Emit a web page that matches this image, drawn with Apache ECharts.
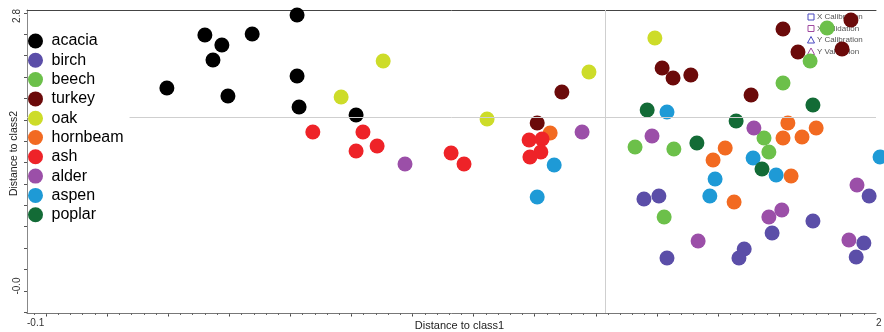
<!DOCTYPE html>
<html><head><meta charset="utf-8">
<script src="https://cdn.jsdelivr.net/npm/echarts@6/dist/echarts.min.js"></script>
<style>html,body{margin:0;padding:0;background:#fff}#c{width:884px;height:332px}</style>
</head><body><div id="c"></div>
<script>
const speciesNames = ['acacia','birch','beech','turkey','oak','hornbeam','ash','alder','aspen','poplar'];
const speciesColors = ['#000000','#5b4ea8','#6cc04a','#6b0a0a','#cddc29','#f26a21','#ee2328','#9b4fa8','#1e9ad6','#136b36'];

const acacia = [[0.568,2.810],[0.340,2.603],[0.382,2.499],[0.457,2.613],[0.360,2.344],[0.246,2.053],[0.397,1.970],[0.568,2.178],[0.573,1.856],[0.714,1.773]];
const birch = [[1.426,0.902],[1.463,0.933],[1.483,0.290],[1.674,0.384],[1.661,0.290],[1.743,0.550],[1.844,0.674],[1.983,0.933],[1.970,0.446],[1.951,0.301]];
const beech = [[1.879,2.676],[1.837,2.333],[1.770,2.105],[1.404,1.441],[1.500,1.421],[1.723,1.535],[1.735,1.390],[1.476,0.716]];
const turkey = [[1.162,1.690],[1.223,2.012],[1.770,2.665],[1.938,2.758],[1.807,2.427],[1.916,2.458],[1.471,2.261],[1.498,2.157],[1.542,2.188],[1.691,1.981]];
const oak = [[0.781,2.333],[0.677,1.960],[1.038,1.732],[1.290,2.219],[1.453,2.572]];
const hornbeam = [[1.194,1.587],[1.782,1.690],[1.852,1.638],[1.770,1.535],[1.817,1.545],[1.627,1.431],[1.597,1.307],[1.790,1.141],[1.649,0.871]];
const ash = [[0.607,1.597],[0.731,1.597],[0.714,1.400],[0.766,1.452],[0.949,1.379],[0.981,1.265],[1.142,1.514],[1.174,1.524],[1.171,1.390],[1.144,1.338]];
const alder = [[0.835,1.265],[1.273,1.597],[1.446,1.556],[1.698,1.638],[1.953,1.047],[1.735,0.716],[1.767,0.788],[1.560,0.467],[1.933,0.477]];
const aspen = [[1.483,1.804],[1.696,1.327],[2.010,1.338],[1.602,1.110],[1.589,0.933],[1.753,1.151],[1.204,1.255],[1.162,0.923]];
const poplar = [[1.434,1.825],[1.654,1.711],[1.844,1.877],[1.557,1.483],[1.718,1.213]];
const seriesData = [acacia,birch,beech,turkey,oak,hornbeam,ash,alder,aspen,poplar];

const critLimitX = 1.33;
const critLimitY = 1.753;

const xRange = [-0.1, 2.0];
const yRange = [-0.28, 2.862];
const xLabelValues = [-0.1, 2.0];
const xLabelTexts = ['-0.1', '2'];
const yLabelValues = [0, 2.8];
const yLabelTexts = ['-0.0', '2.8'];

const miniLegend = ['X Calibration','X Validation','Y Calibration','Y Validation'];

// tick positions (decorative)
const xMajor = [], xMinor = [], yTicks = [];
for (let v = -0.0529; v <= 2.0; v += 0.1511) xMajor.push(+v.toFixed(4));
for (let v = -0.0831; v <= 2.0001; v += 0.03022) xMinor.push(+v.toFixed(4));
for (let k = 0; k <= 14; k++) yTicks.push(+(2.831 - k * 0.2216).toFixed(4));

function pick(vals, texts, v) {
  let bi = 0, bd = Infinity;
  vals.forEach((x, i) => { const d = Math.abs(x - v); if (d < bd) { bd = d; bi = i; } });
  return texts[bi];
}

const FONT = 'Liberation Sans, Arial, sans-serif';
const chart = echarts.init(document.getElementById('c'), null, {renderer: 'canvas'});

const series = [{
  type: 'scatter', data: [], z: 1, silent: true,
  markLine: {
    silent: true, symbol: 'none', animation: false,
    label: {show: false},
    lineStyle: {color: '#cfcfcf', width: 1, type: 'solid'},
    data: [{xAxis: critLimitX}, {yAxis: critLimitY}]
  }
}];
speciesNames.forEach((n, i) => {
  series.push({
    name: n, type: 'scatter', data: seriesData[i], symbol: 'circle', symbolSize: 15,
    clip: false, itemStyle: {color: speciesColors[i], opacity: 1}, z: 3
  });
});

const mini = [];
const miniColors = ['#4848c0','#a04aa0','#4848c0','#a04aa0'];
const rowsY = [17, 28.5, 40, 51.5];
miniLegend.forEach((t, i) => {
  if (i < 2) {
    mini.push({type: 'rect', z: 1, shape: {x: 808, y: rowsY[i] - 3, width: 6, height: 6},
      style: {fill: 'none', stroke: miniColors[i], lineWidth: 1}});
  } else {
    mini.push({type: 'polygon', z: 1, shape: {points: [[811, rowsY[i] - 3.5], [814.5, rowsY[i] + 3], [807.5, rowsY[i] + 3]]},
      style: {fill: 'none', stroke: miniColors[i], lineWidth: 1}});
  }
  mini.push({type: 'text', z: 1, x: 817, y: rowsY[i],
    style: {text: t, font: '8px ' + FONT, fill: '#555', verticalAlign: 'middle', align: 'left'}});
});

chart.setOption({
  animation: false,
  backgroundColor: '#fff',
  textStyle: {fontFamily: FONT},
  grid: {left: 27, right: 8, top: 10, bottom: 19, containLabel: false, outerBoundsMode: 'none'},
  legend: {
    data: speciesNames, orient: 'vertical', left: 28, top: 31, z: 20,
    icon: 'circle', itemWidth: 22, itemHeight: 15, itemGap: 3.3,
    padding: [2, 6, 2, 0], backgroundColor: '#fff',
    textStyle: {fontSize: 16, color: '#000', fontFamily: FONT},
    selectedMode: false
  },
  xAxis: [{
    type: 'value', min: xRange[0], max: xRange[1], position: 'bottom',
    splitLine: {show: false},
    axisLine: {onZero: false, lineStyle: {color: '#777', width: 1}},
    axisTick: {show: true, customValues: xMajor, length: 3.5, lineStyle: {color: '#444'}},
    axisLabel: {customValues: xLabelValues, formatter: v => pick(xLabelValues, xLabelTexts, v),
      align: 'left', fontSize: 10, color: '#333', margin: 5, showMinLabel: true, showMaxLabel: true},
    name: 'Distance to class1', nameLocation: 'middle', nameGap: 7, nameMoveOverlap: false,
    nameTextStyle: {fontSize: 11, color: '#222', padding: [0, 0, 0, 16], verticalAlign: 'top'}
  }, {
    type: 'value', min: xRange[0], max: xRange[1], position: 'bottom', offset: 0,
    splitLine: {show: false}, axisLine: {show: false, onZero: false},
    axisTick: {show: true, customValues: xMinor, length: 2, lineStyle: {color: '#666'}},
    axisLabel: {show: false}
  }, {
    type: 'value', min: xRange[0], max: xRange[1], position: 'top', offset: 0,
    splitLine: {show: false}, axisLine: {onZero: false, lineStyle: {color: '#444', width: 1}},
    axisTick: {show: false}, axisLabel: {show: false}
  }],
  yAxis: [{
    type: 'value', min: yRange[0], max: yRange[1], position: 'left',
    splitLine: {show: false},
    axisLine: {onZero: false, lineStyle: {color: '#888', width: 1}},
    axisTick: {show: true, customValues: yTicks, length: 3, lineStyle: {color: '#555'}},
    axisLabel: {customValues: yLabelValues, formatter: v => pick(yLabelValues, yLabelTexts, v),
      rotate: 90, fontSize: 10, color: '#333', margin: 5, showMinLabel: true, showMaxLabel: true},
    name: 'Distance to class2', nameLocation: 'middle', nameGap: 7, nameRotate: 90, nameMoveOverlap: false,
    nameTextStyle: {fontSize: 10.5, color: '#222', padding: [0, 0, 0, 16]}
  }],
  graphic: mini,
  series: series
});
</script>
</body></html>
